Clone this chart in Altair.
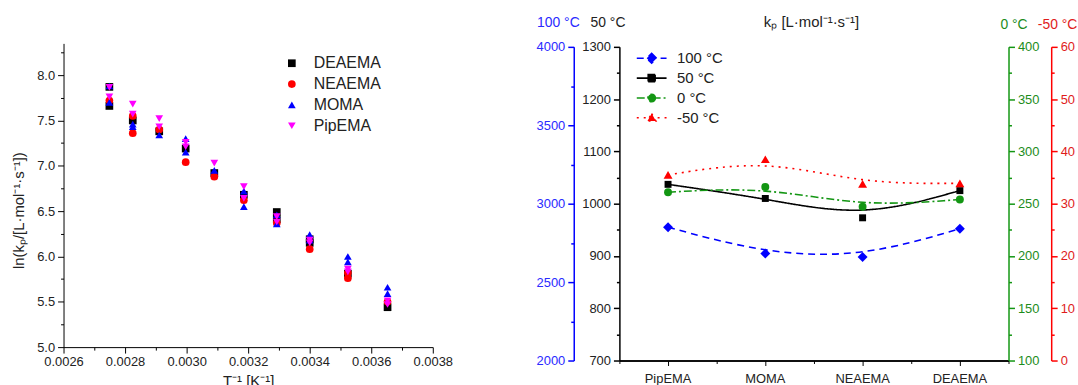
import altair as alt
import pandas as pd

FONT = "Liberation Sans"
TXT = "#222222"

# ---------------- Left panel: ln(kp) vs 1/T ----------------
series = ["DEAEMA", "NEAEMA", "MOMA", "PipEMA"]
series_colors = ["#000000", "#ff0000", "#0000ff", "#ff00ff"]
series_shapes = ["square", "circle", "triangle-up", "triangle-down"]

inv_T = [0.002749, 0.002825, 0.002911, 0.002997, 0.003090,
         0.003186, 0.003293, 0.003400, 0.003524, 0.003653]

ln_kp_DEAEMA = [[7.87, 7.66], [7.50], [7.38], [7.19], [6.92], [6.68],
                [6.49, 6.41], [6.19, 6.15], [5.81], [5.44]]
ln_kp_NEAEMA = [[7.72], [7.55, 7.36], [7.40], [7.04], [6.88], [6.62],
                [6.37], [6.08], [5.76, 5.82], [5.50]]
ln_kp_MOMA = [[7.88, 7.70], [7.46, 7.43], [7.34], [7.30, 7.15], [6.95],
              [6.72, 6.55], [6.46, 6.36], [6.24, 6.18], [6.00, 5.94], [5.66, 5.59]]
ln_kp_PipEMA = [[7.865, 7.76], [7.68, 7.57], [7.52, 7.43], [7.26, 7.21], [7.03],
                [6.77, 6.64], [6.44, 6.38], [6.18, 6.15], [5.86, 5.83], [5.51, 5.47]]

left_x_ticks = [0.0026, 0.0027, 0.0028, 0.0029, 0.0030, 0.0031, 0.0032,
                0.0033, 0.0034, 0.0035, 0.0036, 0.0037, 0.0038]
left_y_ticks = [5.0, 5.25, 5.5, 5.75, 6.0, 6.25, 6.5, 6.75, 7.0, 7.25,
                7.5, 7.75, 8.0, 8.25]

rows = []
for name, vals in zip(series, [ln_kp_DEAEMA, ln_kp_NEAEMA, ln_kp_MOMA, ln_kp_PipEMA]):
    for x, reps in zip(inv_T, vals):
        for v in reps:
            rows.append({"series": name, "invT": x, "lnkp": v})
left_df = pd.DataFrame(rows)

leg_left = alt.Legend(title=None, orient="none", legendX=222, legendY=12, padding=0,
                      labelFontSize=16, labelFont=FONT, labelColor=TXT, labelOffset=14,
                      rowPadding=5, symbolSize=60, symbolStrokeWidth=0)

left = alt.Chart(left_df).mark_point(filled=True, opacity=1, size=60).encode(
    x=alt.X("invT:Q",
            scale=alt.Scale(domain=[0.0026, 0.0038], nice=False, zero=False),
            axis=alt.Axis(values=left_x_ticks, format=".4f", labelFlush=False,
                          labelExpr="round(datum.value*10000) % 2 === 0 ? datum.label : ''",
                          tickSize={"condition": {"test": "round(datum.value*10000) % 2 !== 0", "value": 3}, "value": 6},
                          labelPadding=3,
                          title="T⁻¹ [K⁻¹]", titleFontSize=15, titlePadding=5)),
    y=alt.Y("lnkp:Q",
            scale=alt.Scale(domain=[5.0, 8.35], nice=False, zero=False),
            axis=alt.Axis(values=left_y_ticks, format=".1f", labelFlush=False,
                          labelExpr="datum.value % 0.5 === 0 ? datum.label : ''",
                          tickSize={"condition": {"test": "datum.value % 0.5 !== 0", "value": 3}, "value": 6},
                          labelPadding=3, titleY=168,
                          title="ln(kₚ/[L·mol⁻¹·s⁻¹])", titleFontSize=15, titlePadding=10)),
    color=alt.Color("series:N", scale=alt.Scale(domain=series, range=series_colors), legend=leg_left),
    shape=alt.Shape("series:N", scale=alt.Scale(domain=series, range=series_shapes), legend=leg_left),
).properties(width=372, height=306)

# ---------------- Right panel: kp per monomer ----------------
monomers = ["PipEMA", "MOMA", "NEAEMA", "DEAEMA"]
temps = ["100 °C", "50 °C", "0 °C", "-50 °C"]
kp_100C = [2850, 2682, 2660, 2840]
kp_50C = [1037, 1010, 973, 1025]
kp_0C = [261, 266, 247, 254]
kp_m50C = [35.5, 38.5, 33.8, 33.9]

line_colors = ["#0000ff", "#000000", "#139613", "#ff0000"]
axis_colors = ["#2a2aff", "#222222", "#1c8c1c", "#e01c1c"]
dashes = [[7, 5], [1, 0], [8, 3, 2, 3], [2, 5]]
marker_shapes = ["diamond", "square", "circle", "triangle-up"]
marker_sizes = [100, 49, 64, 80]
legend_paths = [
    "M-3,0H3M0,-1L1,0L0,1L-1,0Z",
    "M-3,0H3M-0.7,-0.7H0.7V0.7H-0.7Z",
    "M-3,0H3M0.75,0A0.75,0.75,0,1,1,-0.75,0A0.75,0.75,0,1,1,0.75,0Z",
    "M-3,0H3M0,-0.85L0.85,0.65H-0.85Z",
]

ticks_100C = [2000, 2250, 2500, 2750, 3000, 3250, 3500, 3750, 4000]
ticks_50C = [700, 750, 800, 850, 900, 950, 1000, 1050, 1100, 1150, 1200, 1250, 1300]
ticks_0C = [100, 125, 150, 175, 200, 225, 250, 275, 300, 325, 350, 375, 400]
ticks_m50C = [0, 5, 10, 15, 20, 25, 30, 35, 40, 45, 50, 55, 60]

domains = [[2000, 4000], [700, 1300], [100, 400], [0, 60]]
majors = [500, 100, 50, 10]
orients = ["left", "left", "right", "right"]
offsets = [46, 0, 0, 43]
title_x = [-16, -12, 5, -14]
title_y = [-25, -25, -22, -22]
title_align = ["center", "center", "center", "left"]
tick_lists = [ticks_100C, ticks_50C, ticks_0C, ticks_m50C]
values_list = [kp_100C, kp_50C, kp_0C, kp_m50C]

xscale = alt.Scale(type="band", paddingInner=0, paddingOuter=0)

x_axis_major = alt.Axis(orient="bottom", labelAngle=0, labelFontSize=13, labelPadding=7,
                        tickSize=5, domainWidth=1.5, title=None)
x_axis_minor = alt.Axis(orient="bottom", tickBand="extent", labels=False, tickSize=3,
                        domainWidth=1.5,
                        title="kₚ [L·mol⁻¹·s⁻¹]", titleX=193, titleY=-341,
                        titleAlign="center", titleBaseline="middle",
                        titleFontSize=15, titleFontWeight="normal")
x_axes = [x_axis_major, x_axis_minor, None, None]


def series_layers(i):
    df = pd.DataFrame({"monomer": monomers, "kp": values_list[i]})
    major = majors[i]
    ax = alt.Axis(orient=orients[i], offset=offsets[i], values=tick_lists[i], format="d",
                  labelExpr=f"datum.value % {major} === 0 ? datum.label : ''",
                  tickSize={"condition": {"test": f"datum.value % {major} !== 0", "value": 3}, "value": 6},
                  domainColor=line_colors[i], tickColor=line_colors[i],
                  labelColor=axis_colors[i], labelFontSize=13, labelPadding=3,
                  labelFlush=False,
                  domainWidth=1.5, tickWidth=1.5,
                  title=temps[i], titleColor=axis_colors[i], titleAngle=0,
                  titleX=title_x[i], titleY=title_y[i], titleAlign=title_align[i],
                  titleBaseline="middle", titleFontSize=14, titleFontWeight="normal")
    yscale = alt.Scale(domain=domains[i], nice=False, zero=False)
    line = alt.Chart(df).mark_line(interpolate="basis", color=line_colors[i],
                                   strokeDash=dashes[i], strokeWidth=1.6).encode(
        x=alt.X("monomer:N", sort=monomers, scale=xscale, axis=x_axes[i]),
        y=alt.Y("kp:Q", scale=yscale, axis=ax))
    pts = alt.Chart(df).mark_point(filled=True, opacity=1, shape=marker_shapes[i],
                                   size=marker_sizes[i], color=line_colors[i]).encode(
        x=alt.X("monomer:N", sort=monomers, scale=xscale, axis=None),
        y=alt.Y("kp:Q", scale=yscale, axis=None))
    return [line, pts]


leg_right = alt.Legend(title=None, orient="none", legendX=25, legendY=4, padding=0,
                       labelFontSize=15, labelFont=FONT, labelColor=TXT, labelOffset=18,
                       rowPadding=4, symbolSize=100, symbolStrokeWidth=1.6)
legend_df = pd.DataFrame({"T": temps, "monomer": monomers, "kp": kp_50C})
legend_layer = alt.Chart(legend_df).mark_point(filled=True, opacity=1).encode(
    x=alt.X("monomer:N", sort=monomers, scale=xscale, axis=None),
    y=alt.Y("kp:Q", scale=alt.Scale(domain=domains[1], nice=False, zero=False), axis=None),
    fill=alt.Fill("T:N", scale=alt.Scale(domain=temps, range=line_colors), legend=leg_right),
    stroke=alt.Stroke("T:N", scale=alt.Scale(domain=temps, range=line_colors), legend=leg_right),
    shape=alt.Shape("T:N", scale=alt.Scale(domain=temps, range=legend_paths), legend=leg_right),
    strokeDash=alt.StrokeDash("T:N", scale=alt.Scale(domain=temps, range=dashes), legend=leg_right),
).transform_filter("false")

right_layers = []
for i in range(4):
    right_layers += series_layers(i)
right_layers.append(legend_layer)

right = alt.layer(*right_layers).resolve_scale(y="independent").resolve_axis(
    x="independent", y="independent").properties(width=392, height=316)

chart = alt.hconcat(left, right, spacing=82, center=True).resolve_scale(
    color="independent", shape="independent", fill="independent",
    stroke="independent", strokeDash="independent"
).configure(
    font=FONT, padding={"left": 11, "top": 13, "right": 0, "bottom": 0}
).configure_view(stroke="transparent").configure_axis(
    labelFont=FONT, titleFont=FONT, labelColor=TXT, titleColor=TXT,
    domainColor="#000000", tickColor="#000000", labelFontSize=13,
    titleFontWeight="normal", grid=False
)

chart.save("out.html", embed_options={"renderer": "svg", "actions": False})
